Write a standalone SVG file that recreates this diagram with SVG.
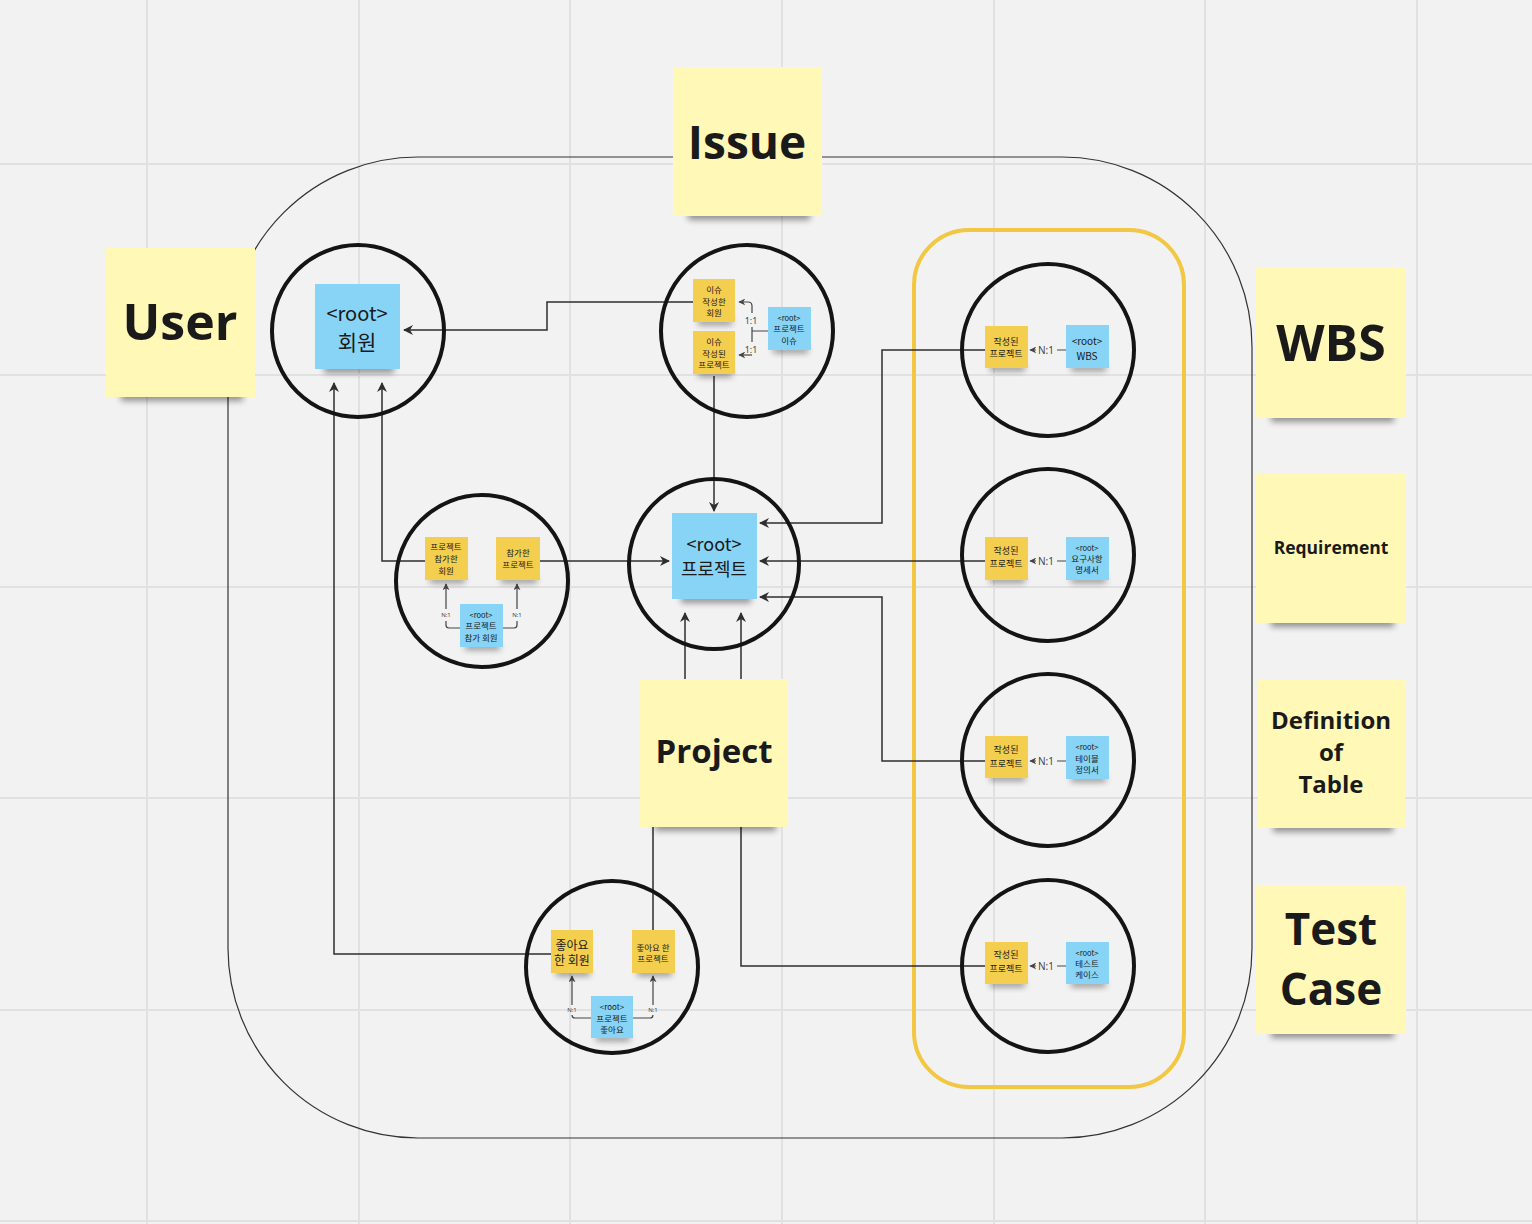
<svg xmlns="http://www.w3.org/2000/svg" width="1532" height="1224" viewBox="0 0 1532 1224">
<defs>
<style>
.grid{stroke:#e1e1e1;stroke-width:2}
.ring{fill:none;stroke:#141414;stroke-width:4}
.ln{fill:none;stroke:#2e2e2e;stroke-width:1.5}
.lns{fill:none;stroke:#444;stroke-width:1.2}
.big{fill:#fff8b6}
.yel{fill:#f4cf4f}
.blu{fill:#88d4f6}
.shd{fill:#000;opacity:0.4;filter:url(#blur)}
.t{font-family:"Open Sans","Noto Sans",sans-serif;font-weight:bold;fill:#1a1a1a;text-anchor:middle}
.k{font-family:"Noto Sans CJK KR","Noto Sans",sans-serif;fill:#1a1a1a;text-anchor:middle;dominant-baseline:central}
.lab{font-family:"Noto Sans","Noto Sans CJK KR",sans-serif;fill:#444;text-anchor:middle;dominant-baseline:central}
</style>
<filter id="blur" x="-20%" y="-100%" width="140%" height="300%"><feGaussianBlur stdDeviation="3"/></filter>
<marker id="ar" viewBox="0 0 10 10" refX="9" refY="5" markerWidth="10" markerHeight="10" markerUnits="userSpaceOnUse" orient="auto"><path d="M0,0 L10,5 L0,10 L3,5 z" fill="#2e2e2e"/></marker>
<marker id="as" viewBox="0 0 10 10" refX="9" refY="5" markerWidth="7" markerHeight="7" markerUnits="userSpaceOnUse" orient="auto"><path d="M0,0 L10,5 L0,10 L3,5 z" fill="#444"/></marker>
</defs>
<rect width="1532" height="1224" fill="#f2f2f2"/>
<g id="grid">
<line class="grid" x1="147" y1="0" x2="147" y2="1224"/>
<line class="grid" x1="359" y1="0" x2="359" y2="1224"/>
<line class="grid" x1="570" y1="0" x2="570" y2="1224"/>
<line class="grid" x1="782" y1="0" x2="782" y2="1224"/>
<line class="grid" x1="994" y1="0" x2="994" y2="1224"/>
<line class="grid" x1="1205" y1="0" x2="1205" y2="1224"/>
<line class="grid" x1="1417" y1="0" x2="1417" y2="1224"/>
<line class="grid" x1="0" y1="164" x2="1532" y2="164"/>
<line class="grid" x1="0" y1="375" x2="1532" y2="375"/>
<line class="grid" x1="0" y1="587" x2="1532" y2="587"/>
<line class="grid" x1="0" y1="798" x2="1532" y2="798"/>
<line class="grid" x1="0" y1="1010" x2="1532" y2="1010"/>
<line class="grid" x1="0" y1="1221" x2="1532" y2="1221"/>
</g>
<g id="frame">
<rect x="228" y="157" width="1024" height="981" rx="190" fill="none" stroke="#333" stroke-width="1.2"/>
<rect x="914" y="230" width="270" height="857" rx="55" fill="none" stroke="#f2c744" stroke-width="4"/>
</g>
<g id="connectors">
<path class="ln" d="M693,302 H547 V330 H404" marker-end="url(#ar)"/>
<path class="ln" d="M714,376 V511" marker-end="url(#ar)"/>
<path class="ln" d="M425,561 H382 V383" marker-end="url(#ar)"/>
<path class="ln" d="M540,561 H669" marker-end="url(#ar)"/>
<path class="ln" d="M551,954 H334 V383" marker-end="url(#ar)"/>
<path class="ln" d="M653,930 V760 H685 V613" marker-end="url(#ar)"/>
<path class="ln" d="M985,966 H741 V613" marker-end="url(#ar)"/>
<path class="ln" d="M985,350 H882 V523 H760" marker-end="url(#ar)"/>
<path class="ln" d="M985,561 H760" marker-end="url(#ar)"/>
<path class="ln" d="M985,761 H882 V597 H760" marker-end="url(#ar)"/>
<path class="lns" d="M752,313 V306 Q752,302 748,302 H739" marker-end="url(#as)"/>
<path class="lns" d="M768,331 H752 M752,327 V342"/>
<path class="lns" d="M752,355 H739" marker-end="url(#as)"/>
<path class="lns" d="M460,628 H449 Q446,628 446,625 V621 M446,609 V584" marker-end="url(#as)"/>
<path class="lns" d="M503,628 H514 Q517,628 517,625 V621 M517,609 V584" marker-end="url(#as)"/>
<path class="lns" d="M591,1018 H575 Q572,1018 572,1015 V1015 M572,1005 V976" marker-end="url(#as)"/>
<path class="lns" d="M633,1018 H650 Q653,1018 653,1015 V1015 M653,1005 V976" marker-end="url(#as)"/>
<path class="lns" d="M1066,350 H1057 M1036,350 H1030" marker-end="url(#as)"/>
<path class="lns" d="M1066,561 H1057 M1036,561 H1030" marker-end="url(#as)"/>
<path class="lns" d="M1066,761 H1057 M1036,761 H1030" marker-end="url(#as)"/>
<path class="lns" d="M1066,966 H1057 M1036,966 H1030" marker-end="url(#as)"/>
<text class="lab" x="751" y="320" font-size="9">1:1</text>
<text class="lab" x="751" y="349" font-size="9">1:1</text>
<text class="lab" x="446" y="615" font-size="6">N:1</text>
<text class="lab" x="517" y="615" font-size="6">N:1</text>
<text class="lab" x="572" y="1010" font-size="6">N:1</text>
<text class="lab" x="653" y="1010" font-size="6">N:1</text>
<text class="lab" x="1046" y="350" font-size="10">N:1</text>
<text class="lab" x="1046" y="561" font-size="10">N:1</text>
<text class="lab" x="1046" y="761" font-size="10">N:1</text>
<text class="lab" x="1046" y="966" font-size="10">N:1</text>
</g>
<g id="user-circle">
<circle class="ring" cx="358" cy="331" r="86"/>
<rect class="shd" x="324" y="365" width="70" height="8"/>
<rect class="blu" x="315" y="284" width="85" height="85"/>
<text class="k" x="357" y="312" font-size="20">&lt;root&gt;</text>
<text class="k" x="357" y="341" font-size="21">회원</text>
</g>
<g id="issue-circle">
<circle class="ring" cx="747" cy="331" r="86"/>
<rect class="shd" x="698" y="319" width="34" height="6"/>
<rect class="yel" x="693" y="279" width="42" height="43"/>
<text class="k" x="714" y="289" font-size="8.5">이슈</text>
<text class="k" x="714" y="301" font-size="8.5">작성한</text>
<text class="k" x="714" y="312" font-size="8.5">회원</text>
<rect class="shd" x="698" y="371" width="34" height="6"/>
<rect class="yel" x="693" y="331" width="42" height="43"/>
<text class="k" x="714" y="341" font-size="8.5">이슈</text>
<text class="k" x="714" y="353" font-size="8.5">작성된</text>
<text class="k" x="714" y="364" font-size="8.5">프로젝트</text>
<rect class="shd" x="773" y="347" width="35" height="6"/>
<rect class="blu" x="768" y="307" width="43" height="43"/>
<text class="k" x="789" y="317" font-size="7.5">&lt;root&gt;</text>
<text class="k" x="789" y="328" font-size="8.5">프로젝트</text>
<text class="k" x="789" y="340" font-size="8.5">이슈</text>
</g>
<g id="participation-circle">
<circle class="ring" cx="482" cy="581" r="86"/>
<rect class="shd" x="430" y="577" width="35" height="6"/>
<rect class="yel" x="425" y="537" width="43" height="43"/>
<text class="k" x="446" y="546" font-size="8.5">프로젝트</text>
<text class="k" x="446" y="558" font-size="8.5">참가한</text>
<text class="k" x="446" y="570" font-size="8.5">회원</text>
<rect class="shd" x="501" y="577" width="36" height="6"/>
<rect class="yel" x="496" y="537" width="44" height="43"/>
<text class="k" x="518" y="552" font-size="8.5">참가한</text>
<text class="k" x="518" y="564" font-size="8.5">프로젝트</text>
<rect class="shd" x="465" y="644" width="35" height="6"/>
<rect class="blu" x="460" y="604" width="43" height="43"/>
<text class="k" x="481" y="614" font-size="7.5">&lt;root&gt;</text>
<text class="k" x="481" y="625" font-size="8.5">프로젝트</text>
<text class="k" x="481" y="637" font-size="8.5">참가 회원</text>
</g>
<g id="project-circle">
<circle class="ring" cx="714" cy="564" r="85"/>
<rect class="shd" x="681" y="595" width="70" height="8"/>
<rect class="blu" x="672" y="513" width="85" height="86"/>
<text class="k" x="714" y="543" font-size="18">&lt;root&gt;</text>
<text class="k" x="714" y="568" font-size="18">프로젝트</text>
</g>
<g id="like-circle">
<circle class="ring" cx="612" cy="967" r="86"/>
<rect class="shd" x="556" y="970" width="34" height="6"/>
<rect class="yel" x="551" y="930" width="42" height="43"/>
<text class="k" x="572" y="944" font-size="12">좋아요</text>
<text class="k" x="572" y="959" font-size="12">한 회원</text>
<rect class="shd" x="637" y="970" width="35" height="6"/>
<rect class="yel" x="632" y="930" width="43" height="43"/>
<text class="k" x="653" y="947" font-size="8.5">좋아요 한</text>
<text class="k" x="653" y="958" font-size="8.5">프로젝트</text>
<rect class="shd" x="596" y="1035" width="34" height="6"/>
<rect class="blu" x="591" y="996" width="42" height="42"/>
<text class="k" x="612" y="1006" font-size="8">&lt;root&gt;</text>
<text class="k" x="612" y="1018" font-size="8.5">프로젝트</text>
<text class="k" x="612" y="1029" font-size="8.5">좋아요</text>
</g>
<g id="wbs-circle">
<circle class="ring" cx="1048" cy="350" r="86"/>
<rect class="shd" x="990" y="365" width="35" height="6"/>
<rect class="yel" x="985" y="326" width="43" height="42"/>
<text class="k" x="1006" y="341" font-size="9">작성된</text>
<text class="k" x="1006" y="353" font-size="9">프로젝트</text>
<rect class="shd" x="1071" y="365" width="35" height="6"/>
<rect class="blu" x="1066" y="325" width="43" height="43"/>
<text class="k" x="1087" y="340" font-size="10">&lt;root&gt;</text>
<text class="k" x="1087" y="355" font-size="10">WBS</text>
</g>
<g id="requirement-circle">
<circle class="ring" cx="1048" cy="555" r="86"/>
<rect class="shd" x="990" y="577" width="35" height="6"/>
<rect class="yel" x="985" y="537" width="43" height="43"/>
<text class="k" x="1006" y="550" font-size="9">작성된</text>
<text class="k" x="1006" y="563" font-size="9">프로젝트</text>
<rect class="shd" x="1071" y="577" width="35" height="6"/>
<rect class="blu" x="1066" y="537" width="43" height="43"/>
<text class="k" x="1087" y="547" font-size="7.5">&lt;root&gt;</text>
<text class="k" x="1087" y="558" font-size="8.5">요구사항</text>
<text class="k" x="1087" y="569" font-size="8.5">명세서</text>
</g>
<g id="definition-circle">
<circle class="ring" cx="1048" cy="760" r="86"/>
<rect class="shd" x="990" y="775" width="35" height="6"/>
<rect class="yel" x="985" y="736" width="43" height="42"/>
<text class="k" x="1006" y="749" font-size="9">작성된</text>
<text class="k" x="1006" y="763" font-size="9">프로젝트</text>
<rect class="shd" x="1071" y="776" width="35" height="6"/>
<rect class="blu" x="1066" y="736" width="43" height="43"/>
<text class="k" x="1087" y="746" font-size="7.5">&lt;root&gt;</text>
<text class="k" x="1087" y="758" font-size="8.5">테이블</text>
<text class="k" x="1087" y="769" font-size="8.5">정의서</text>
</g>
<g id="testcase-circle">
<circle class="ring" cx="1048" cy="966" r="86"/>
<rect class="shd" x="990" y="981" width="35" height="6"/>
<rect class="yel" x="985" y="942" width="43" height="42"/>
<text class="k" x="1006" y="954" font-size="9">작성된</text>
<text class="k" x="1006" y="968" font-size="9">프로젝트</text>
<rect class="shd" x="1071" y="981" width="35" height="6"/>
<rect class="blu" x="1066" y="942" width="43" height="42"/>
<text class="k" x="1087" y="952" font-size="7.5">&lt;root&gt;</text>
<text class="k" x="1087" y="963" font-size="8.5">테스트</text>
<text class="k" x="1087" y="974" font-size="8.5">케이스</text>
</g>
<g id="issue-note">
<rect class="shd" x="688" y="210" width="122" height="10"/>
<rect class="big" x="673" y="67" width="149" height="149"/>
<text class="t" x="747" y="159" font-size="46">Issue</text>
</g>
<g id="user-note">
<rect class="shd" x="121" y="391" width="122" height="10"/>
<rect class="big" x="106" y="248" width="149" height="149"/>
<text class="t" x="180" y="340" font-size="50">User</text>
</g>
<g id="project-note">
<rect class="shd" x="655" y="821" width="121" height="10"/>
<rect class="big" x="640" y="679" width="148" height="148"/>
<text class="t" x="714" y="763" font-size="33">Project</text>
</g>
<g id="wbs-note">
<rect class="shd" x="1271" y="412" width="123" height="10"/>
<rect class="big" x="1256" y="268" width="150" height="150"/>
<text class="t" x="1331" y="361" font-size="50">WBS</text>
</g>
<g id="requirement-note">
<rect class="shd" x="1271" y="617" width="123" height="10"/>
<rect class="big" x="1256" y="474" width="150" height="149"/>
<text class="t" x="1331" y="554" font-size="17.5">Requirement</text>
</g>
<g id="definition-note">
<rect class="shd" x="1273" y="822" width="120" height="10"/>
<rect class="big" x="1258" y="680" width="147" height="148"/>
<text class="t" x="1331" y="729" font-size="24">Definition</text>
<text class="t" x="1331" y="761" font-size="24">of</text>
<text class="t" x="1331" y="793" font-size="24">Table</text>
</g>
<g id="testcase-note">
<rect class="shd" x="1271" y="1028" width="123" height="10"/>
<rect class="big" x="1256" y="885" width="150" height="149"/>
<text class="t" x="1331" y="945" font-size="44">Test</text>
<text class="t" x="1331" y="1005" font-size="44">Case</text>
</g>
</svg>
